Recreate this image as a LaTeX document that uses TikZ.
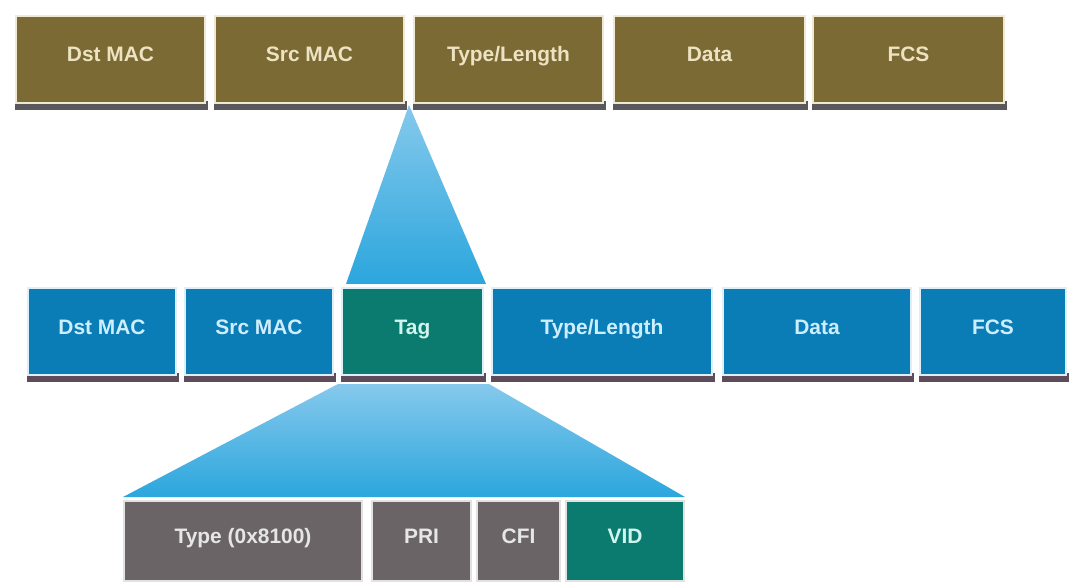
\documentclass[tikz,border=0pt]{standalone}
\usepackage{fontspec}
\setmainfont{Liberation Sans}
\usetikzlibrary{calc}
\definecolor{olivef}{HTML}{7B6A33}
\definecolor{olivetx}{HTML}{EDE3C3}
\definecolor{olivebd}{HTML}{EFE8D2}
\definecolor{oliveshd}{HTML}{5A585A}
\definecolor{bluef}{HTML}{0B7DB6}
\definecolor{bluetx}{HTML}{CDEEFF}
\definecolor{bluebd}{HTML}{DDEFF8}
\definecolor{blueshd}{HTML}{5F4C5A}
\definecolor{tealf}{HTML}{0B7B6F}
\definecolor{tealtx}{HTML}{CFF5EE}
\definecolor{grayf}{HTML}{6B6466}
\definecolor{graytx}{HTML}{E6E6E6}
\definecolor{graybd}{HTML}{E2E2E2}
\definecolor{wedgetop}{HTML}{86C9EC}
\definecolor{wedgebot}{HTML}{2BA6DD}
\newcommand\fld[7]{%
  \node[#6, minimum width={#3bp-#2bp-2bp}, minimum height={#5bp-#4bp-2bp}]
    (#1) at ({(#2+#3)/2},{(#4+#5)/2}) {#7};}
\newcommand\shd[5]{%
  \fill[#5] (#1,{#4-3}) rectangle ({#2+2},{#4+6});}
\begin{document}
\begin{tikzpicture}[x=1bp,y=-1bp,
  fieldbase/.style={inner sep=0pt, outer sep=0pt, line width=2bp,
    text height=15bp, text depth=10bp,
    font=\fontsize{21}{24}\selectfont\bfseries},
  olivebox/.style={fieldbase, fill=olivef, draw=olivebd, text=olivetx},
  bluebox/.style={fieldbase, fill=bluef, draw=bluebd, text=bluetx},
  tagbox/.style={fieldbase, fill=tealf, draw=bluebd, text=tealtx},
  graybox/.style={fieldbase, fill=grayf, draw=graybd, text=graytx},
  vidbox/.style={fieldbase, fill=tealf, draw=graybd, text=tealtx},
  wedge/.style={top color=wedgetop, bottom color=wedgebot}]
\useasboundingbox (0,0) rectangle (1072,586);
% top frame shadows
\shd{15}{206}{15}{104}{oliveshd}
\shd{214}{405}{15}{104}{oliveshd}
\shd{413}{604}{15}{104}{oliveshd}
\shd{613}{806}{15}{104}{oliveshd}
\shd{812}{1005}{15}{104}{oliveshd}
% top frame
\fld{tdst}{15}{206}{15}{104}{olivebox}{Dst MAC}
\fld{tsrc}{214}{405}{15}{104}{olivebox}{Src MAC}
\fld{ttype}{413}{604}{15}{104}{olivebox}{Type/Length}
\fld{tdata}{613}{806}{15}{104}{olivebox}{Data}
\fld{tfcs}{812}{1005}{15}{104}{olivebox}{FCS}
% middle frame shadows
\shd{27}{177}{287}{376}{blueshd}
\shd{184}{334}{287}{376}{blueshd}
\shd{341}{484}{287}{376}{blueshd}
\shd{491}{713}{287}{376}{blueshd}
\shd{722}{912}{287}{376}{blueshd}
\shd{919}{1067}{287}{376}{blueshd}
% middle frame
\fld{mdst}{27}{177}{287}{376}{bluebox}{Dst MAC}
\fld{msrc}{184}{334}{287}{376}{bluebox}{Src MAC}
\fld{mtag}{341}{484}{287}{376}{tagbox}{Tag}
\fld{mtype}{491}{713}{287}{376}{bluebox}{Type/Length}
\fld{mdata}{722}{912}{287}{376}{bluebox}{Data}
\fld{mfcs}{919}{1067}{287}{376}{bluebox}{FCS}
% tag fields
\fld{btype}{123}{363}{500}{582}{graybox}{Type (0x8100)}
\fld{bpri}{371}{472}{500}{582}{graybox}{PRI}
\fld{bcfi}{476}{561}{500}{582}{graybox}{CFI}
\fld{bvid}{565}{685}{500}{582}{vidbox}{VID}
% expansion wedges
\coordinate (apex) at ($(tsrc.south east)!0.5!(ttype.south west)+(0,2)$);
\shade[wedge] (apex) -- ($(mtag.north east)+(3,-4)$) -- ($(mtag.north west)+(4,-4)$) -- cycle;
\shade[wedge] ($(mtag.south west)+(-4,9)$) -- ($(mtag.south east)+(6,9)$)
  -- ($(bvid.north east)+(1,-4)$) -- ($(btype.north west)+(-1,-4)$) -- cycle;
\end{tikzpicture}
\end{document}
